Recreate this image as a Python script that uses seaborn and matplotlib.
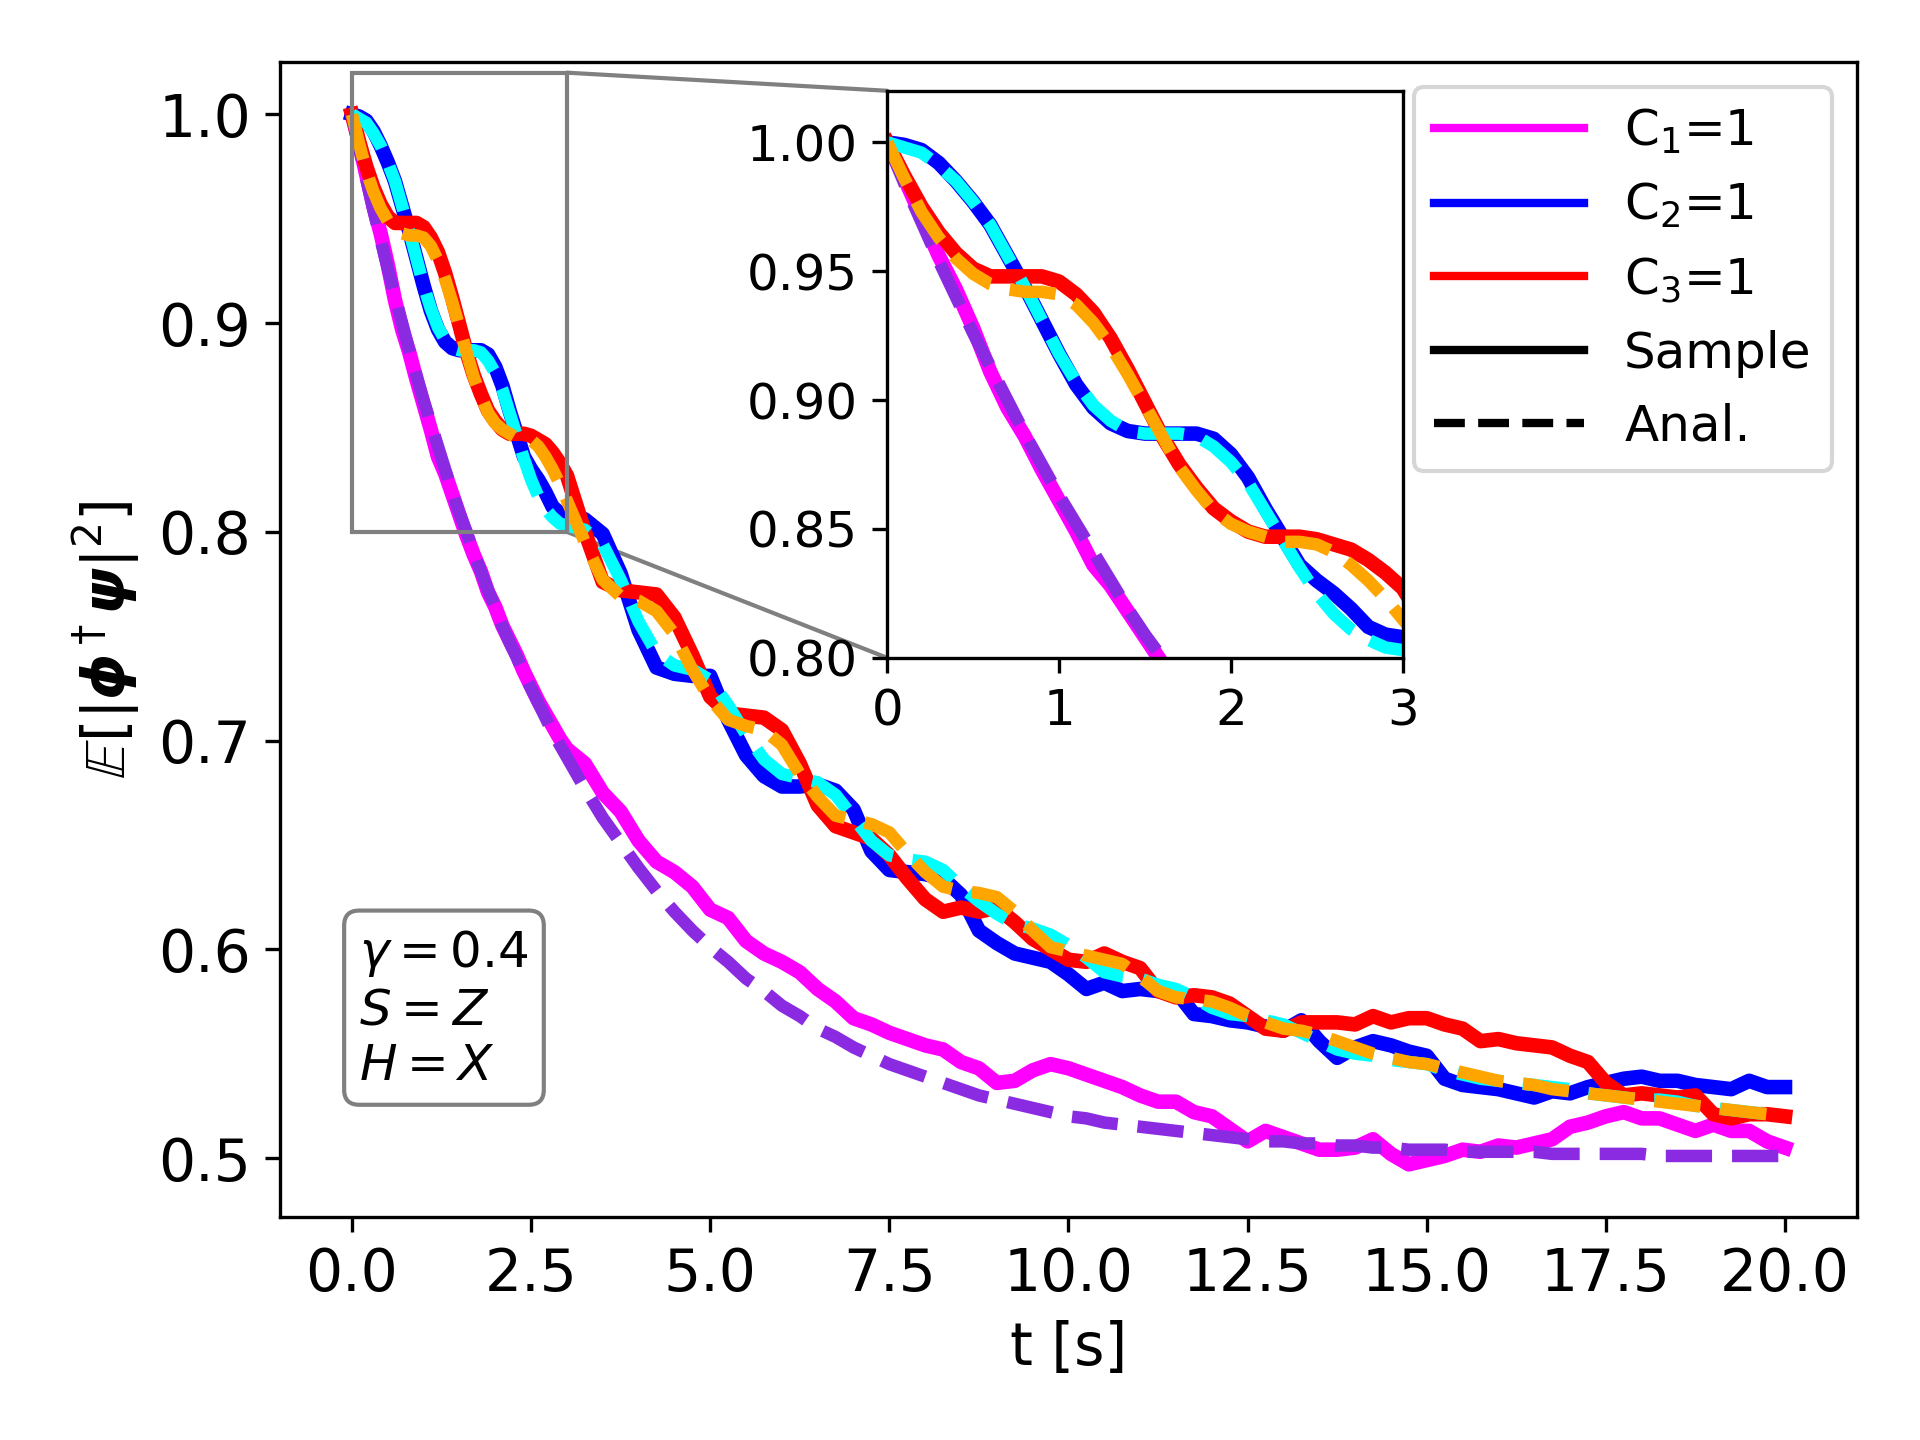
import numpy as np
import matplotlib
matplotlib.use('Agg')
import matplotlib.pyplot as plt
import seaborn as sns
from matplotlib.lines import Line2D
from matplotlib.patches import Rectangle, ConnectionPatch

# time grid: 0.1 s steps up to 3 s, then 0.25 s steps
t = np.round(np.concatenate([np.arange(0, 3.01, 0.1), np.arange(3.25, 20.01, 0.25)]), 2)

# sampled curves
c1_sample = [1.000, 0.986, 0.971, 0.956, 0.943, 0.928, 0.911, 0.897, 0.886, 0.873,
             0.861, 0.849, 0.836, 0.828, 0.818, 0.808, 0.798, 0.789, 0.781, 0.771,
             0.764, 0.755, 0.748, 0.741, 0.733, 0.726, 0.719, 0.713, 0.707, 0.701,
             0.696,
             0.689, 0.675, 0.666, 0.652, 0.642, 0.637, 0.630, 0.619,
             0.615, 0.604, 0.598, 0.594, 0.589, 0.581, 0.575, 0.567,
             0.564, 0.560, 0.557, 0.554, 0.552, 0.546, 0.543, 0.536,
             0.537, 0.542, 0.545, 0.543, 0.540, 0.537, 0.534, 0.530,
             0.527, 0.527, 0.522, 0.520, 0.514, 0.508, 0.513, 0.510,
             0.507, 0.504, 0.504, 0.505, 0.509, 0.502, 0.497, 0.499,
             0.501, 0.504, 0.503, 0.506, 0.505, 0.507, 0.509, 0.515,
             0.517, 0.520, 0.522, 0.519, 0.519, 0.516, 0.513, 0.516,
             0.513, 0.513, 0.508, 0.505]
c2_sample = [1.000, 0.999, 0.997, 0.992, 0.985, 0.977, 0.968, 0.956, 0.944, 0.931,
             0.918, 0.906, 0.897, 0.891, 0.888, 0.887, 0.887, 0.887, 0.887, 0.885,
             0.879, 0.870, 0.858, 0.847, 0.836, 0.830, 0.825, 0.819, 0.812, 0.809,
             0.808,
             0.806, 0.799, 0.780, 0.753, 0.735, 0.732, 0.731, 0.731,
             0.710, 0.693, 0.683, 0.678, 0.678, 0.679, 0.676, 0.667,
             0.647, 0.638, 0.637, 0.636, 0.634, 0.626, 0.609, 0.603,
             0.598, 0.596, 0.594, 0.588, 0.581, 0.584, 0.580, 0.581,
             0.580, 0.580, 0.569, 0.568, 0.566, 0.565, 0.563, 0.561,
             0.566, 0.556, 0.548, 0.553, 0.556, 0.554, 0.551, 0.549,
             0.538, 0.535, 0.534, 0.533, 0.531, 0.529, 0.532, 0.531,
             0.534, 0.536, 0.538, 0.539, 0.537, 0.537, 0.535, 0.534,
             0.533, 0.537, 0.534, 0.534]
c3_sample = [1.000, 0.987, 0.975, 0.965, 0.957, 0.951, 0.948, 0.948, 0.948, 0.948,
             0.946, 0.941, 0.934, 0.924, 0.912, 0.899, 0.886, 0.875, 0.866, 0.858,
             0.853, 0.849, 0.847, 0.847, 0.847, 0.846, 0.844, 0.842, 0.838, 0.833,
             0.827,
             0.800, 0.776, 0.772, 0.771, 0.770, 0.759, 0.741, 0.721,
             0.713, 0.712, 0.711, 0.705, 0.689, 0.669, 0.659, 0.656,
             0.653, 0.645, 0.634, 0.624, 0.618, 0.620, 0.618, 0.620,
             0.613, 0.605, 0.600, 0.595, 0.594, 0.598, 0.594, 0.591,
             0.580, 0.577, 0.578, 0.577, 0.574, 0.568, 0.562, 0.561,
             0.565, 0.565, 0.565, 0.564, 0.568, 0.565, 0.567, 0.567,
             0.564, 0.562, 0.556, 0.557, 0.555, 0.554, 0.553, 0.549,
             0.546, 0.536, 0.530, 0.531, 0.530, 0.529, 0.530, 0.521,
             0.519, 0.521, 0.521, 0.520]

# analytical curves
c1_anal = [1.000, 0.984, 0.969, 0.954, 0.940, 0.926, 0.913, 0.900, 0.887, 0.875,
           0.863, 0.852, 0.841, 0.830, 0.819, 0.809, 0.800, 0.790, 0.781, 0.772,
           0.764, 0.755, 0.747, 0.740, 0.732, 0.725, 0.718, 0.711, 0.704, 0.698,
           0.692,
           0.677, 0.663, 0.651, 0.639, 0.628, 0.618, 0.609, 0.601,
           0.594, 0.586, 0.580, 0.573, 0.568, 0.562, 0.558, 0.553,
           0.549, 0.545, 0.542, 0.539, 0.536, 0.533, 0.530, 0.528,
           0.526, 0.524, 0.522, 0.520, 0.519, 0.517, 0.516, 0.515,
           0.514, 0.513, 0.512, 0.511, 0.510, 0.509, 0.508, 0.508,
           0.507, 0.507, 0.506, 0.506, 0.505, 0.505, 0.504, 0.504,
           0.504, 0.503, 0.503, 0.503, 0.503, 0.503, 0.502, 0.502,
           0.502, 0.502, 0.502, 0.502, 0.501, 0.501, 0.501, 0.501,
           0.501, 0.501, 0.501, 0.501]
c2_anal = [1.000, 0.998, 0.996, 0.991, 0.985, 0.977, 0.968, 0.956, 0.944, 0.931,
           0.918, 0.907, 0.898, 0.892, 0.888, 0.887, 0.887, 0.887, 0.886, 0.882,
           0.876, 0.868, 0.857, 0.846, 0.835, 0.825, 0.817, 0.811, 0.807, 0.804,
           0.803,
           0.801, 0.794, 0.777, 0.757, 0.742, 0.736, 0.734, 0.729,
           0.717, 0.703, 0.691, 0.684, 0.682, 0.680, 0.674, 0.663,
           0.652, 0.645, 0.643, 0.642, 0.638, 0.630, 0.623, 0.617,
           0.612, 0.610, 0.607, 0.602, 0.596, 0.589, 0.587, 0.586,
           0.583, 0.581, 0.577, 0.572, 0.569, 0.568, 0.566, 0.564,
           0.560, 0.556, 0.552, 0.550, 0.549, 0.547, 0.546, 0.545,
           0.542, 0.540, 0.538, 0.537, 0.536, 0.535, 0.534, 0.533,
           0.531, 0.530, 0.529, 0.528, 0.528, 0.527, 0.525, 0.524,
           0.523, 0.522, 0.521, 0.520]
c3_anal = [1.000, 0.986, 0.973, 0.963, 0.955, 0.949, 0.945, 0.943, 0.942, 0.942,
           0.941, 0.937, 0.930, 0.921, 0.910, 0.898, 0.886, 0.874, 0.865, 0.857,
           0.852, 0.849, 0.847, 0.845, 0.845, 0.844, 0.841, 0.836, 0.830, 0.823,
           0.815,
           0.795, 0.777, 0.769, 0.767, 0.762, 0.751, 0.734, 0.720,
           0.710, 0.707, 0.705, 0.698, 0.684, 0.673, 0.664, 0.662,
           0.660, 0.656, 0.646, 0.637, 0.630, 0.628, 0.627, 0.625,
           0.618, 0.609, 0.601, 0.599, 0.597, 0.595, 0.593, 0.587,
           0.580, 0.577, 0.576, 0.575, 0.572, 0.568, 0.565, 0.562,
           0.561, 0.559, 0.556, 0.553, 0.550, 0.548, 0.546, 0.545,
           0.543, 0.541, 0.539, 0.537, 0.536, 0.535, 0.533, 0.532,
           0.531, 0.530, 0.529, 0.528, 0.527, 0.526, 0.525, 0.524,
           0.523, 0.522, 0.521, 0.520]

samples = [c1_sample, c2_sample, c3_sample]
anals = [c1_anal, c2_anal, c3_anal]
sample_colors = ['magenta', 'blue', 'red']
anal_colors = ['blueviolet', 'cyan', 'orange']
legend_labels = ['C$_1$=1', 'C$_2$=1', 'C$_3$=1', 'Sample', 'Anal.']

inset_xlim = (0, 3)
inset_ylim = (0.80, 1.02)


def draw_curves(axis):
    # samples first, analytical dashed on top
    for vals, col in zip(samples, sample_colors):
        sns.lineplot(x=t, y=vals, color=col, lw=3.5, errorbar=None, ax=axis)
    for vals, col in zip(anals, anal_colors):
        sns.lineplot(x=t, y=vals, color=col, lw=3, ls='--', errorbar=None, ax=axis)


fig, ax = plt.subplots(figsize=(6.4, 4.8), dpi=300)
fig.subplots_adjust(left=0.146, right=0.967, bottom=0.155, top=0.957)

draw_curves(ax)
ax.set_xlim(ax.get_xlim())
ax.set_ylim(ax.get_ylim())
ax.tick_params(labelsize=14)
ax.set_xlabel('t [s]', fontsize=14)
ax.set_ylabel(r'$\mathbb{E}[|\mathbfit{\phi}^\dagger\mathbfit{\psi}|^2]$', fontsize=14)

# inset zoom
axins = ax.inset_axes([0.385, 0.484, 0.327, 0.491])
draw_curves(axins)
axins.set_xlim(inset_xlim)
axins.set_ylim(inset_ylim)
axins.set_xticks([0, 1, 2, 3])
axins.set_yticks([0.80, 0.85, 0.90, 0.95, 1.00])
axins.yaxis.set_major_formatter('{x:.2f}')
axins.tick_params(labelsize=12)
axins.set_xlabel('')
axins.set_ylabel('')

rect = Rectangle((inset_xlim[0], inset_ylim[0]), inset_xlim[1] - inset_xlim[0],
                 inset_ylim[1] - inset_ylim[0], fill=False, ec='gray', lw=1, zorder=4)
ax.add_patch(rect)
for y_main, y_ins in [(inset_ylim[1], 1), (inset_ylim[0], 0)]:
    con = ConnectionPatch(xyA=(inset_xlim[1], y_main), coordsA=ax.transData,
                          xyB=(0, y_ins), coordsB=axins.transAxes, color='gray', lw=1)
    ax.add_artist(con)

# parameter box
ax.text(0.05, 0.11, '$\\gamma=0.4$\n$S=Z$\n$H=X$', transform=ax.transAxes,
        fontsize=12, ha='left', va='bottom',
        bbox=dict(boxstyle='round', facecolor='white', edgecolor='gray', lw=1))

handles = [Line2D([], [], color=c, lw=2) for c in sample_colors]
handles += [Line2D([], [], color='k', lw=2), Line2D([], [], color='k', lw=2, ls='--')]
ax.legend(handles, legend_labels, loc='upper right', fontsize=12, handlelength=3.0)

fig.savefig('out.png', dpi=300)
